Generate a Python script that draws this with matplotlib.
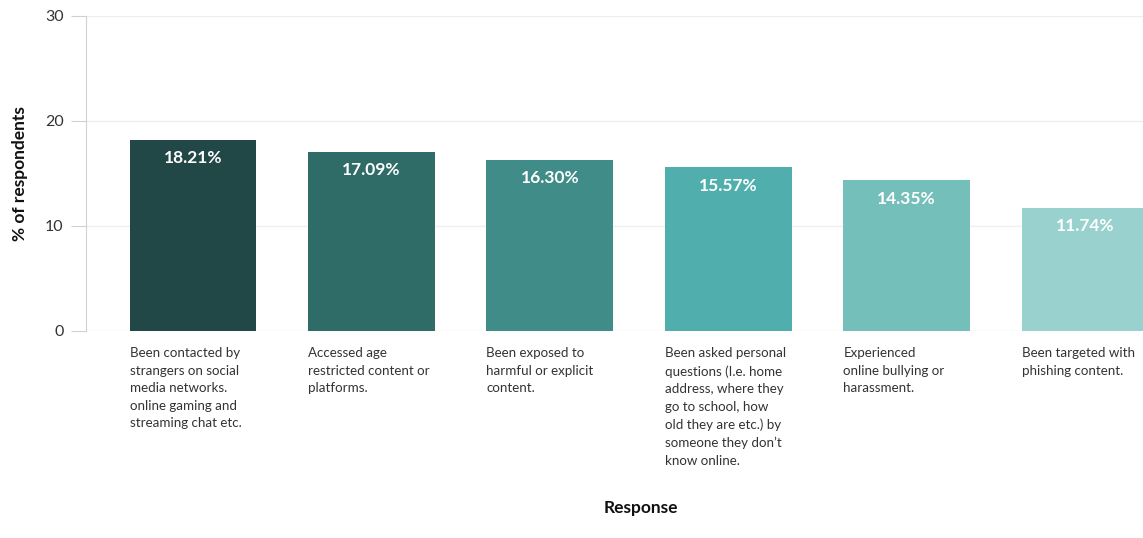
import numpy as np
import matplotlib.pyplot as plt
from matplotlib.transforms import blended_transform_factory

# survey responses, % of respondents
responses = [
    'Been contacted by\nstrangers on social\nmedia networks.\nonline gaming and\nstreaming chat etc.',
    'Accessed age\nrestricted content or\nplatforms.',
    'Been exposed to\nharmful or explicit\ncontent.',
    'Been asked personal\nquestions (I.e. home\naddress, where they\ngo to school, how\nold they are etc.) by\nsomeone they don\u2019t\nknow online.',
    'Experienced\nonline bullying or\nharassment.',
    'Been targeted with\nphishing content.',
]
pct = [18.21, 17.09, 16.30, 15.57, 14.35, 11.74]
colors = ['#224747', '#2f6b67', '#3f8c88', '#50afad', '#75bfbb', '#98d1cd']

plt.rcParams['font.family'] = ['Lato', 'DejaVu Sans']

fig = plt.figure(figsize=(11.43, 5.38), dpi=100)
ax = fig.add_axes([0.0752, 0.3848, 0.9248, 0.5855])

x = np.arange(len(pct))
bw = 0.71
ax.bar(x, pct, width=bw, color=colors, zorder=2)

for xi, v in zip(x, pct):
    ax.text(xi, v - 1.0, f'{v:.2f}%', ha='center', va='top', color='white',
            fontsize=12.5, fontweight='bold', zorder=3)

trans = blended_transform_factory(ax.transData, ax.transAxes)
for xi, lab in zip(x, responses):
    ax.text(xi - bw / 2, -0.052, lab, transform=trans, ha='left', va='top',
            fontsize=9.6, color='#333333', linespacing=1.55, clip_on=False)

ax.set_xlim(-0.6, 5.325)
ax.set_ylim(0, 30)
ax.set_yticks([0, 10, 20, 30])
ax.set_xticks([])
ax.grid(axis='y', color='#efefef', linewidth=1, zorder=0)
for s in ['top', 'right', 'bottom']:
    ax.spines[s].set_visible(False)
ax.spines['left'].set_color('#d0d0d0')
ax.tick_params(axis='y', length=11, color='#d0d0d0', labelsize=11.5,
               labelcolor='#333333', pad=5)

ax.set_ylabel('% of respondents', fontsize=12.5, fontweight='bold',
              color='#111111', labelpad=12)
fig.text(0.561, 0.055, 'Response', ha='center', va='center', fontsize=12.5,
         fontweight='bold', color='#111111')

fig.savefig('out.png', dpi=100)
